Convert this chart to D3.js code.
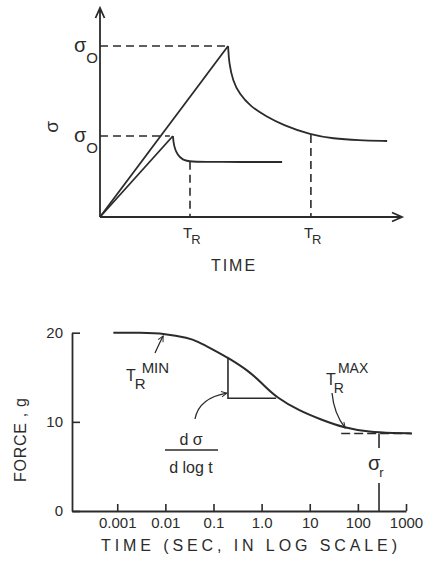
<!DOCTYPE html>
<html>
<head>
<meta charset="utf-8">
<script src="https://cdn.jsdelivr.net/npm/d3@7"></script>
<style>
  body { margin: 0; background: #fff; }
  svg { display: block; }
  text { font-family: "Liberation Sans", Arial, sans-serif; fill: #2b2b2b; }
</style>
</head>
<body>
<script>
// ---- top panel (arbitrary units) ----
var rampBig = [[0, 0], [42.7, 85.5]];
var decayBig = [[42.7, 85.5], [43.0, 77], [44.3, 68], [46.5, 61.5], [50, 55.5], [55.7, 50],
                [61, 46], [70.3, 41], [77.7, 39.2], [86, 38.4], [95.7, 38]];
var rampSmall = [[0, 0], [24.3, 40.5]];
var decaySmall = [[24.3, 40.5], [24.6, 35.5], [25.8, 31], [27.5, 28.6], [30, 27.6], [38, 27.5], [60.7, 27.5]];
var sigma0 = [85.5, 40.5];
var relaxT = [30, 70.3];

// ---- bottom panel (log time) ----
var times = [0.00083, 0.003, 0.01, 0.03, 0.046, 0.098, 0.2, 0.575, 1.07, 2, 6.3, 16.4, 49, 178, 560, 1320];
var forces = [20.0, 20.0, 19.9, 19.4, 19.05, 18.1, 17.2, 15.6, 14.2, 12.75, 11.2, 10.3, 9.35, 8.85, 8.75, 8.7];
var xTicks = [0.001, 0.01, 0.1, 1, 10, 100, 1000];
var xTickLabels = ["0.001", "0.01", "0.1", "1.0", "10", "100", "1000"];
var yTicks = [0, 10, 20];
var triTimes = [0.2, 2];
var triForces = [17.2, 12.65];
var residual = 8.7, residualSpan = [45, 1320], residualT = 275;

var ink = "#2b2b2b";
var svg = d3.select("body").append("svg").attr("width", 438).attr("height", 571);

svg.append("defs").append("marker")
  .attr("id", "head").attr("viewBox", "0 0 10 10").attr("refX", 9).attr("refY", 5)
  .attr("markerWidth", 7).attr("markerHeight", 7).attr("orient", "auto-start-reverse")
  .attr("markerUnits", "userSpaceOnUse")
  .append("path").attr("d", "M1,1L9,5L1,9").attr("fill", "none").attr("stroke", ink).attr("stroke-width", 1.4);

// ================= top =================
var tx = d3.scaleLinear().domain([0, 100]).range([100, 400]);
var ty = d3.scaleLinear().domain([0, 100]).range([217, 17]);
var topG = svg.append("g");
var lineT = d3.line().x(function (d) { return tx(d[0]); }).y(function (d) { return ty(d[1]); });
var curveT = d3.line().x(function (d) { return tx(d[0]); }).y(function (d) { return ty(d[1]); })
  .curve(d3.curveBasis);

// axes with arrows
topG.append("path").attr("d", "M100,217V8M95.5,18L100,8L104.5,18")
  .attr("fill", "none").attr("stroke", ink).attr("stroke-width", 1.8);
topG.append("path").attr("d", "M100,217H402M392,212.5L402,217L392,221.5")
  .attr("fill", "none").attr("stroke", ink).attr("stroke-width", 1.8);

// dashed guides
sigma0.forEach(function (s, i) {
  var peak = i === 0 ? rampBig[1] : rampSmall[1];
  topG.append("line").attr("x1", tx(0)).attr("x2", tx(peak[0]) - 3)
    .attr("y1", ty(s)).attr("y2", ty(s))
    .attr("stroke", ink).attr("stroke-width", 1.6).attr("stroke-dasharray", "8,5");
});
relaxT.forEach(function (t, i) {
  var src = i === 0 ? decaySmall : decayBig;
  var yv = src.filter(function (d) { return d[0] === t; })[0][1];
  topG.append("line").attr("x1", tx(t)).attr("x2", tx(t))
    .attr("y1", ty(yv)).attr("y2", ty(0))
    .attr("stroke", ink).attr("stroke-width", 1.6).attr("stroke-dasharray", "8,5");
});

[rampBig, rampSmall].forEach(function (d) {
  topG.append("path").attr("d", lineT(d)).attr("fill", "none").attr("stroke", ink).attr("stroke-width", 1.8);
});
[decayBig, decaySmall].forEach(function (d) {
  topG.append("path").attr("d", curveT(d)).attr("fill", "none").attr("stroke", ink).attr("stroke-width", 1.8);
});

// labels
sigma0.forEach(function (s) {
  var t = topG.append("text").attr("x", 74).attr("y", ty(s) + 6).attr("font-size", 20);
  t.append("tspan").text("σ");
  t.append("tspan").attr("dx", 0).attr("dy", 11).attr("font-size", 15).text("O");
});
topG.append("text").attr("transform", "translate(58,127) rotate(-90)")
  .attr("text-anchor", "middle").attr("font-size", 19).text("σ");
relaxT.forEach(function (t) {
  var lab = topG.append("text").attr("x", tx(t) - 7).attr("y", 238).attr("font-size", 15);
  lab.append("tspan").text("T");
  lab.append("tspan").attr("dx", -1).attr("dy", 6).attr("font-size", 13).text("R");
});
topG.append("text").attr("x", 234).attr("y", 271).attr("text-anchor", "middle")
  .attr("font-size", 16).attr("letter-spacing", 2).text("TIME");

// ================= bottom =================
var x = d3.scaleLog().domain([Math.pow(10, -3.94), 1000]).range([72, 406]);
var y = d3.scaleLinear().domain([0, 20]).range([511, 332.7]);
var bot = svg.append("g");

var xAxis = bot.append("g").attr("transform", "translate(0,511)")
  .call(d3.axisBottom(x).tickValues(xTicks).tickSizeInner(-7).tickSizeOuter(0).tickPadding(6)
    .tickFormat(function (d, i) { return xTickLabels[i]; }));
var yAxis = bot.append("g").attr("transform", "translate(72,0)")
  .call(d3.axisLeft(y).tickValues(yTicks).tickSizeInner(-8).tickSizeOuter(0).tickPadding(9));
[xAxis, yAxis].forEach(function (a) {
  a.select(".domain").attr("stroke", ink).attr("stroke-width", 1.8);
  a.selectAll(".tick line").attr("stroke", ink).attr("stroke-width", 1.6);
  a.selectAll(".tick text").attr("font-size", 15).attr("fill", ink)
    .style("font-family", "'Liberation Sans', Arial, sans-serif");
});

var pts = times.map(function (t, i) { return [t, forces[i]]; });
bot.append("path")
  .attr("d", d3.line().x(function (d) { return x(d[0]); }).y(function (d) { return y(d[1]); })
    .curve(d3.curveBasis)(pts))
  .attr("fill", "none").attr("stroke", ink).attr("stroke-width", 2);

// slope triangle
bot.append("path")
  .attr("d", "M" + x(triTimes[0]) + "," + y(triForces[0]) + "V" + y(triForces[1]) + "H" + x(triTimes[1]))
  .attr("fill", "none").attr("stroke", ink).attr("stroke-width", 1.6);

// residual dashed + marker
bot.append("line").attr("x1", x(residualSpan[0])).attr("x2", x(residualSpan[1]))
  .attr("y1", y(residual)).attr("y2", y(residual))
  .attr("stroke", ink).attr("stroke-width", 1.6).attr("stroke-dasharray", "9,4");
bot.append("line").attr("x1", x(residualT)).attr("x2", x(residualT))
  .attr("y1", y(residual)).attr("y2", 448).attr("stroke", ink).attr("stroke-width", 1.6);
bot.append("line").attr("x1", x(residualT)).attr("x2", x(residualT))
  .attr("y1", 483).attr("y2", y(0)).attr("stroke", ink).attr("stroke-width", 1.6);
var sr = bot.append("text").attr("x", x(residualT) - 11).attr("y", 470).attr("font-size", 20);
sr.append("tspan").text("σ");
sr.append("tspan").attr("dx", -1).attr("dy", 7).attr("font-size", 13).text("r");

// annotations
function arrow(x0, y0, cx, cy, x1, y1) {
  bot.append("path").attr("d", "M" + x0 + "," + y0 + "Q" + cx + "," + cy + " " + x1 + "," + y1)
    .attr("fill", "none").attr("stroke", ink).attr("stroke-width", 1.3).attr("marker-end", "url(#head)");
}
arrow(155, 353, 160, 342, x(0.009), y(19.85) + 2);
arrow(332, 393, 334, 414, x(60) - 2, y(9.2) - 1);
arrow(195, 419, 199, 398, x(triTimes[0]) - 1, y(triForces[1]) - 5);

var tmin = bot.append("text").attr("x", 126).attr("y", 381).attr("font-size", 16);
tmin.append("tspan").text("T");
tmin.append("tspan").attr("dy", 8).attr("dx", -1).attr("font-size", 15).text("R");
tmin.append("tspan").attr("dy", -16).attr("dx", -4).attr("font-size", 15).text("MIN");
var tmax = bot.append("text").attr("x", 326).attr("y", 385).attr("font-size", 16);
tmax.append("tspan").text("T");
tmax.append("tspan").attr("dy", 8).attr("dx", -2).attr("font-size", 14).text("R");
tmax.append("tspan").attr("dy", -20).attr("dx", -6).attr("font-size", 14).text("MAX");

bot.append("text").attr("x", 191).attr("y", 445).attr("text-anchor", "middle")
  .attr("font-size", 16).text("d σ");
bot.append("line").attr("x1", 165).attr("x2", 218).attr("y1", 450).attr("y2", 450)
  .attr("stroke", ink).attr("stroke-width", 1.4);
bot.append("text").attr("x", 191).attr("y", 473).attr("text-anchor", "middle")
  .attr("font-size", 16).text("d log t");

bot.append("text").attr("x", 249).attr("y", 551).attr("text-anchor", "middle")
  .attr("font-size", 16).attr("textLength", 296).attr("lengthAdjust", "spacing")
  .text("TIME (SEC, IN LOG SCALE)");
bot.append("text").attr("transform", "translate(26,440) rotate(-90)").attr("text-anchor", "middle")
  .attr("font-size", 16).attr("textLength", 84).attr("lengthAdjust", "spacing")
  .text("FORCE , g");
</script>
</body>
</html>
